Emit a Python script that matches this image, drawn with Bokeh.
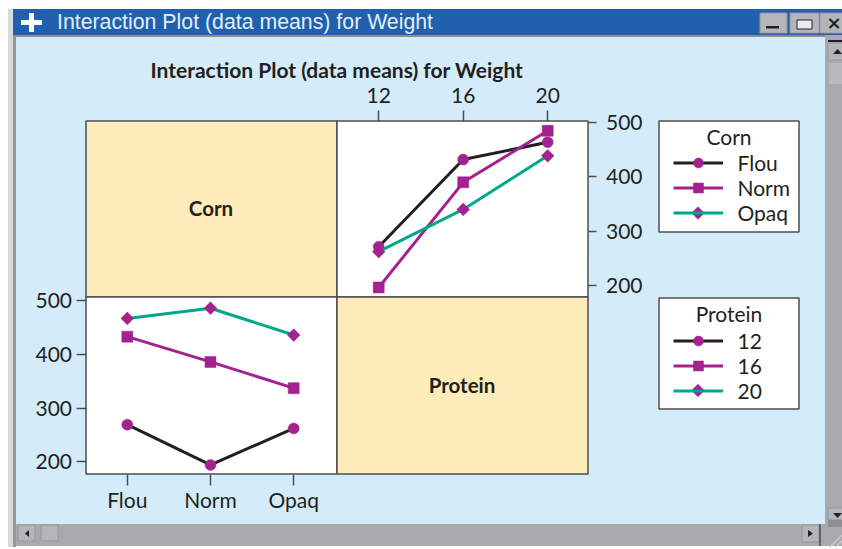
from math import pi
from bokeh.embed import file_html
from bokeh.resources import INLINE
from bokeh.plotting import figure
from bokeh.models import Range1d, LinearAxis, FixedTicker, Legend, LegendItem
from bokeh.core.properties import value

# ---- data -------------------------------------------------------------
window_title = "Interaction Plot (data means) for Weight"
chart_title = "Interaction Plot (data means) for Weight"
corn_levels = ["Flou", "Norm", "Opaq"]
corn_pos = [1, 2, 3]
protein_levels = [12, 16, 20]
weight_ticks = [200, 300, 400, 500]
# upper right: Weight against Protein, one line per Corn type
flou_by_protein = [271, 432, 464]
norm_by_protein = [196, 390, 485]
opaq_by_protein = [262, 340, 439]
# lower left: Weight against Corn, one line per Protein level
p12_by_corn = [269, 194, 262]
p16_by_corn = [433, 386, 337]
p20_by_corn = [467, 486, 436]

# ---- style ---------------------------------------------------------------
BLUE, SKY, YELLOW, GRAY = "#2060ae", "#d4ecfa", "#feecba", "#a9aaad"
BTN, INK, EDGE = "#b4b5b8", "#231f20", "#4d4d4f"
PURPLE, GREEN = "#a3228f", "#00a88a"
SANS = "Lato"
W, H = 842, 549
OX, OY = 0.5, 0.5

p = figure(width=W, height=H, output_backend="svg", toolbar_location=None,
           x_range=Range1d(OX, OX + W), y_range=Range1d(OY + H, OY),
           min_border=0, outline_line_color=None, background_fill_color="white",
           border_fill_color="white")
p.axis.visible = False
p.grid.visible = False


def box(x0, y0, x1, y1, fill, line=None, lw=1.0):
    p.quad(left=[x0], right=[x1], top=[y0], bottom=[y1], fill_color=fill,
           line_color=line, line_width=lw)


def label(x, y, s, size, color=INK, style="normal", font=SANS, align="center"):
    p.text(x=[x], y=[y], text=[s], text_font=value(font), text_font_size=f"{size}px",
           text_font_style=style, text_color=color, text_align=align,
           text_baseline="middle")


def tri(xs, ys):
    p.patch(xs, ys, fill_color=INK, line_color=None)


# ---- window chrome ----------------------------------------------------------
box(8, 9, 13, 547, "#d9dadb")
box(13, 35, 16, 547, "#97989b")
box(16, 37, 825, 524, SKY)
box(13, 9, 843, 35, BLUE)
box(13, 35, 825, 37, "#8d8e91")
box(16, 524, 843, 546, GRAY)
box(825, 35, 843, 546, GRAY)
box(21, 20, 42, 25, "white")
box(29, 13, 34, 32, "white")
label(57, 22, window_title, 21.3, "#e4eefa", font="Liberation Sans", align="left")
for x0, x1 in [(760, 787), (790, 819), (820, 843)]:
    box(x0, 13, x1, 33, BTN, "#97989b", 1)
box(766, 26, 779, 28.5, INK)
box(797, 20, 812, 29, "#ececec", INK, 1)
label(834, 22.5, "\u00d7", 18, INK, "bold", "DejaVu Sans")
box(828, 40, 843, 42, INK)
box(828, 43, 843, 60, BTN, "#97989b", 1)
tri([833, 837.5, 842], [54, 49, 54])
box(829, 63, 843, 84, "#b9babd")
box(828, 508, 843, 520, BTN, "#97989b", 1)
tri([833, 837.5, 842], [513, 518, 513])
box(828, 520, 843, 527, "#8d8e91")
box(18, 525, 35, 541, BTN, "#97989b", 1)
tri([29, 29, 25], [530, 537, 533.5])
box(41, 525, 58, 541, BTN, "#97989b", 1)
box(802, 525, 819, 542, BTN, "#97989b", 1)
tri([808, 808, 813], [530, 537, 533.5])
box(819.5, 524, 820.5, 546, INK)
p.line([830, 842], [547, 535], line_color="#c9cacc", line_width=1.5)
p.line([836, 842], [547, 541], line_color="#c9cacc", line_width=1.5)

# ---- panels ---------------------------------------------------------------------
box(86, 121, 337, 297, YELLOW, EDGE, 1.5)
box(337, 121, 588, 297, "white", EDGE, 1.5)
box(86, 297, 337, 474, "white", EDGE, 1.5)
box(337, 297, 588, 474, YELLOW, EDGE, 1.5)
label(337, 69, chart_title, 21, INK, "bold", "Lato")
label(211, 207.5, "Corn", 20.5, INK, "bold", "Lato")
label(462, 384.5, "Protein", 20.5, INK, "bold", "Lato")


# ---- scales: each panel has its own data ranges mapped on the one frame ---------
def scale(v0, px0, v1, px1, lo, hi):
    k = (v1 - v0) / (px1 - px0)
    return Range1d(v0 + (lo - px0) * k, v0 + (hi - px0) * k)


p.extra_x_ranges = {
    "protein": scale(12, 378.7, 20, 547.7, OX, OX + W),
    "corn": scale(1, 127.3, 3, 293.7, OX, OX + W),
}
p.extra_y_ranges = {
    "upper": scale(200, 285.3, 500, 122.7, OY + H, OY),
    "lower": scale(200, 461.7, 500, 300.7, OY + H, OY),
}


def axis(side, ticks, fixed, tick_len, standoff, overrides=None, **names):
    a = LinearAxis(ticker=FixedTicker(ticks=ticks), fixed_location=fixed, axis_line_color=None,
                   major_tick_line_color=EDGE, major_tick_line_width=1.5, major_tick_in=0,
                   major_tick_out=tick_len, minor_tick_out=0, minor_tick_in=0,
                   major_label_text_font=SANS, major_label_text_font_size="21px",
                   major_label_text_color=INK, major_label_standoff=standoff, **names)
    if overrides:
        a.major_label_overrides = overrides
    p.add_layout(a, side)


axis("above", protein_levels, 121, 11, 7, x_range_name="protein")
axis("right", weight_ticks, 588, 8, 10, y_range_name="upper")
axis("left", weight_ticks, 86, 10, 4, y_range_name="lower")
axis("below", corn_pos, 474, 11, 2, dict(zip(corn_pos, corn_levels)), x_range_name="corn")


# ---- series ---------------------------------------------------------------------
def series(xs, ys, color, marker, xr, yr):
    line = p.line(xs, ys, line_color=color, line_width=3, x_range_name=xr, y_range_name=yr)
    kw = {"size": 11, "angle": 0}
    if marker == "diamond":
        kw = {"size": 9, "angle": pi / 4}
        marker = "square"
    dots = p.scatter(xs, ys, marker=marker, fill_color=PURPLE, line_color=PURPLE, line_width=0.5,
                     x_range_name=xr, y_range_name=yr, **kw)
    return [line, dots]


looks = [(INK, "circle"), (PURPLE, "square"), (GREEN, "diamond")]
upper = [series(protein_levels, v, c, m, "protein", "upper")
         for v, (c, m) in zip([flou_by_protein, norm_by_protein, opaq_by_protein], looks)]
lower = [series(corn_pos, v, c, m, "corn", "lower")
         for v, (c, m) in zip([p12_by_corn, p16_by_corn, p20_by_corn], looks)]

# ---- legends ---------------------------------------------------------------------
ROW = 25  # height of a legend row


def legend(title, names, groups, x0, y0, x1, y1, title_y, first_row):
    box(x0, y0, x1, y1, "white", EDGE, 1.5)
    label((x0 + x1) / 2, title_y, title, 21, INK)
    # the legend does not turn markers, so the last row's diamond is added on top of it
    rows = [g if i < 2 else g[:1] for i, g in enumerate(groups)]
    bottom = first_row - ROW / 2 + 3 * ROW
    leg = Legend(items=[LegendItem(label=str(n), renderers=g) for n, g in zip(names, rows)],
                 location=(673 - OX, OY + H - bottom),
                 orientation="vertical",
                 glyph_width=50, glyph_height=ROW, label_height=20,
                 label_standoff=15, spacing=0, padding=0, margin=0,
                 background_fill_alpha=0, border_line_color=None,
                 label_text_font=SANS, label_text_font_size="21px", label_text_color=INK)
    p.add_layout(leg, "center")
    p.scatter([698], [first_row + 2 * ROW], marker="square", size=9, angle=pi / 4,
              fill_color=PURPLE, line_color=PURPLE, line_width=0.5, level="overlay")


legend("Corn", corn_levels, upper, 659, 121, 799, 232, 136, 163)
legend("Protein", protein_levels, lower, 659, 298, 799, 409, 313, 340.5)

open("out.html", "w").write(file_html(p, INLINE))
